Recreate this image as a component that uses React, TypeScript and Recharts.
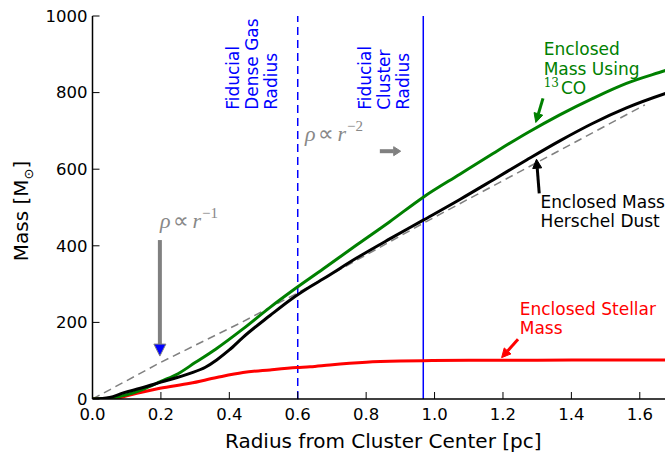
import React from 'react';
import { LineChart, Line, XAxis, YAxis, ReferenceLine, ReferenceDot } from 'recharts';

// radius in pc, enclosed mass in solar masses
const coRadius = [0, 0.05, 0.1, 0.15, 0.2, 0.25, 0.3, 0.36, 0.44, 0.52, 0.58, 0.675, 0.772, 0.869, 0.967, 1.074, 1.171, 1.269, 1.366, 1.463, 1.561, 1.673, 1.7];
const coMass = [0, 2, 11, 26, 46, 66, 95, 130, 183, 240, 280, 340, 402, 463, 527, 587, 641, 694, 742, 785, 824, 857, 865];

const dustRadius = [0, 0.05, 0.09, 0.14, 0.2, 0.285, 0.33, 0.363, 0.4, 0.44, 0.519, 0.577, 0.636, 0.675, 0.772, 0.869, 0.967, 1.074, 1.171, 1.269, 1.366, 1.463, 1.561, 1.673, 1.7];
const dustMass = [0, 4, 16, 28, 44, 67, 83, 102, 128, 161, 218, 258, 293, 314, 368, 418, 467, 521, 572, 624, 674, 720, 760, 797, 805];

const starRadius = [0, 0.06, 0.09, 0.14, 0.197, 0.285, 0.363, 0.44, 0.519, 0.597, 0.636, 0.694, 0.8, 0.9, 0.967, 1.1, 1.3, 1.5, 1.7];
const starMass = [0, 0, 6, 17, 28, 41, 56, 69, 76, 82, 84, 89, 96, 99, 100, 101, 101, 102, 102];

const modelRadius = [0, 0.2, 0.44, 0.6, 0.967, 1.615];
const modelMass = [0, 96, 202, 277, 459, 768];

const xTicks = [0, 0.2, 0.4, 0.6, 0.8, 1.0, 1.2, 1.4, 1.6];
const yTicks = [0, 200, 400, 600, 800, 1000];

const denseGasRadius = 0.6;
const clusterRadius = 0.967;

const toRows = (rs: number[], ms: number[]) => rs.map((r, i) => ({ r, m: ms[i] }));

const coData = toRows(coRadius, coMass);
const dustData = toRows(dustRadius, dustMass);
const starData = toRows(starRadius, starMass);
const modelData = toRows(modelRadius, modelMass);

const FONT = '"DejaVu Sans", sans-serif';
const GREEN = '#008000';
const RED = '#ff0000';
const BLUE = '#0000ff';
const GRAY = '#808080';

const arrow = (color: string, fill: string, width: number, headLen: number, headW: number) => (p: any) => {
  const { x1, y1, x2, y2 } = p;
  const dx = x2 - x1;
  const dy = y2 - y1;
  const len = Math.hypot(dx, dy) || 1;
  const ux = dx / len;
  const uy = dy / len;
  const bx = x2 - ux * headLen;
  const by = y2 - uy * headLen;
  const nx = (-uy * headW) / 2;
  const ny = (ux * headW) / 2;
  return (
    <g>
      <line x1={x1} y1={y1} x2={bx} y2={by} stroke={color} strokeWidth={width} />
      <polygon
        points={`${x2},${y2} ${bx + nx},${by + ny} ${bx - nx},${by - ny}`}
        fill={fill}
        stroke={color}
        strokeWidth={1}
      />
    </g>
  );
};

const lines = (rows: string[], color: string, gap: number) => (p: any) => (
  <text x={p.cx} y={p.cy} fill={color} fontSize={17} fontFamily={FONT}>
    {rows.map((t, i) => (
      <tspan key={i} x={p.cx} dy={i === 0 ? 0 : gap}>
        {t}
      </tspan>
    ))}
  </text>
);

const vertical = (rows: string[]) => (p: any) => (
  <text
    x={p.cx}
    y={p.cy}
    transform={`rotate(-90 ${p.cx} ${p.cy})`}
    fill={BLUE}
    fontSize={17}
    fontFamily={FONT}
  >
    {rows.map((t, i) => (
      <tspan key={i} x={p.cx} dy={i === 0 ? 0 : 19}>
        {t}
      </tspan>
    ))}
  </text>
);

const coLabel = (p: any) => (
  <text x={p.cx} y={p.cy} fill={GREEN} fontSize={17} fontFamily={FONT}>
    <tspan x={p.cx} dy={0}>Enclosed</tspan>
    <tspan x={p.cx} dy={19.5}>Mass Using</tspan>
    <tspan x={p.cx} dy={12} fontSize={12} fontFamily='"DejaVu Serif", serif'>13</tspan>
    <tspan dy={7} dx={2}>CO</tspan>
  </text>
);

const rhoLabel = (power: string) => (p: any) => (
  <text x={p.cx} y={p.cy} fill="#888888" fontSize={22} fontFamily='"Liberation Serif", serif'>
    <tspan fontStyle="italic">ρ</tspan>
    <tspan dx={3}>∝</tspan>
    <tspan dx={3} fontStyle="italic">r</tspan>
    <tspan dx={1} dy={-10} fontSize={15}>{power}</tspan>
  </text>
);

const massTitle = () => {
  const cx = 28;
  const cy = 211;
  return (
    <text
      x={cx}
      y={cy}
      transform={`rotate(-90 ${cx} ${cy})`}
      textAnchor="middle"
      fontSize={20}
      fontFamily={FONT}
      fill="#000"
    >
      Mass [M
      <tspan fontSize={13} dy={5}>⊙</tspan>
      <tspan dy={-5}>]</tspan>
    </text>
  );
};

const axisStyle = { stroke: '#000', strokeWidth: 1.5 };
const tickStyle = { stroke: '#000', strokeWidth: 1 };
const tickFont = { fill: '#000', fontSize: 16.5, fontFamily: FONT };

export default function App() {
  return (
    <div style={{ position: 'absolute', left: 0, top: 0, width: 665, height: 456, overflow: 'hidden', background: '#fff' }}>
      <LineChart width={682} height={456} margin={{ top: 16, right: 8, bottom: 0, left: 0 }}>
        <XAxis
          xAxisId="b"
          type="number"
          dataKey="r"
          domain={[0, 1.7]}
          ticks={xTicks}
          allowDataOverflow
          height={57}
          axisLine={axisStyle}
          tickLine={tickStyle}
          tickSize={-7}
          tickMargin={16}
          tick={tickFont}
          tickFormatter={(v: number) => v.toFixed(1)}
          label={{ value: 'Radius from Cluster Center [pc]', position: 'insideBottom', offset: 8, fill: '#000', fontSize: 20, fontFamily: FONT }}
        />
        <XAxis
          xAxisId="t"
          orientation="top"
          type="number"
          dataKey="r"
          domain={[0, 1.7]}
          ticks={xTicks}
          allowDataOverflow
          height={0}
          axisLine={axisStyle}
          tickLine={tickStyle}
          tickSize={-7}
          tickFormatter={() => ''}
        />
        <YAxis
          yAxisId="l"
          type="number"
          domain={[0, 1000]}
          ticks={yTicks}
          allowDataOverflow
          width={92.5}
          axisLine={axisStyle}
          tickLine={tickStyle}
          tickSize={-7}
          tickMargin={12}
          tick={tickFont}
          label={massTitle}
        />
        <YAxis
          yAxisId="r"
          orientation="right"
          type="number"
          domain={[0, 1000]}
          ticks={yTicks}
          width={0}
          axisLine={axisStyle}
          tickLine={tickStyle}
          tickSize={-7}
          tickFormatter={() => ''}
        />

        <ReferenceLine xAxisId="b" yAxisId="l" x={denseGasRadius} stroke={BLUE} strokeWidth={1.5} strokeDasharray="8 5" />
        <ReferenceLine xAxisId="b" yAxisId="l" x={clusterRadius} stroke={BLUE} strokeWidth={1.5} />

        <Line xAxisId="b" yAxisId="l" data={modelData} dataKey="m" type="linear" stroke={GRAY} strokeWidth={1.5} strokeDasharray="8 5" dot={false} isAnimationActive={false} />
        <Line xAxisId="b" yAxisId="l" data={starData} dataKey="m" type="monotone" stroke={RED} strokeWidth={3} dot={false} isAnimationActive={false} />
        <Line xAxisId="b" yAxisId="l" data={coData} dataKey="m" type="monotone" stroke={GREEN} strokeWidth={3} dot={false} isAnimationActive={false} />
        <Line xAxisId="b" yAxisId="l" data={dustData} dataKey="m" type="monotone" stroke="#000" strokeWidth={3} dot={false} isAnimationActive={false} />

        {/* annotations */}
        <ReferenceLine xAxisId="b" yAxisId="l" segment={[{ x: 0.197, y: 415 }, { x: 0.197, y: 112 }]} shape={arrow(GRAY, BLUE, 4, 12, 12)} />
        <ReferenceLine xAxisId="b" yAxisId="l" segment={[{ x: 0.84, y: 647 }, { x: 0.901, y: 647 }]} shape={arrow(GRAY, GRAY, 4, 7, 9)} />
        <ReferenceLine xAxisId="b" yAxisId="l" segment={[{ x: 1.317, y: 785 }, { x: 1.296, y: 722 }]} shape={arrow(GREEN, GREEN, 3, 9, 9)} />
        <ReferenceLine xAxisId="b" yAxisId="l" segment={[{ x: 1.306, y: 537 }, { x: 1.298, y: 626 }]} shape={arrow('#000', '#000', 3, 9, 9)} />
        <ReferenceLine xAxisId="b" yAxisId="l" segment={[{ x: 1.244, y: 156 }, { x: 1.196, y: 108 }]} shape={arrow(RED, RED, 3, 9, 9)} />

        <ReferenceDot xAxisId="b" yAxisId="l" x={0.197} y={446} shape={rhoLabel('−1')} />
        <ReferenceDot xAxisId="b" yAxisId="l" x={0.621} y={673} shape={rhoLabel('−2')} />
        <ReferenceDot xAxisId="b" yAxisId="l" x={0.4295} y={755} shape={vertical(['Fiducial', 'Dense Gas', 'Radius'])} />
        <ReferenceDot xAxisId="b" yAxisId="l" x={0.814} y={755} shape={vertical(['Fiducial', 'Cluster', 'Radius'])} />
        <ReferenceDot xAxisId="b" yAxisId="l" x={1.319} y={898} shape={coLabel} />
        <ReferenceDot xAxisId="b" yAxisId="l" x={1.31} y={499} shape={lines(['Enclosed Mass', 'Herschel Dust'], '#000', 19)} />
        <ReferenceDot xAxisId="b" yAxisId="l" x={1.249} y={219} shape={lines(['Enclosed Stellar', 'Mass'], RED, 19)} />
      </LineChart>
    </div>
  );
}
